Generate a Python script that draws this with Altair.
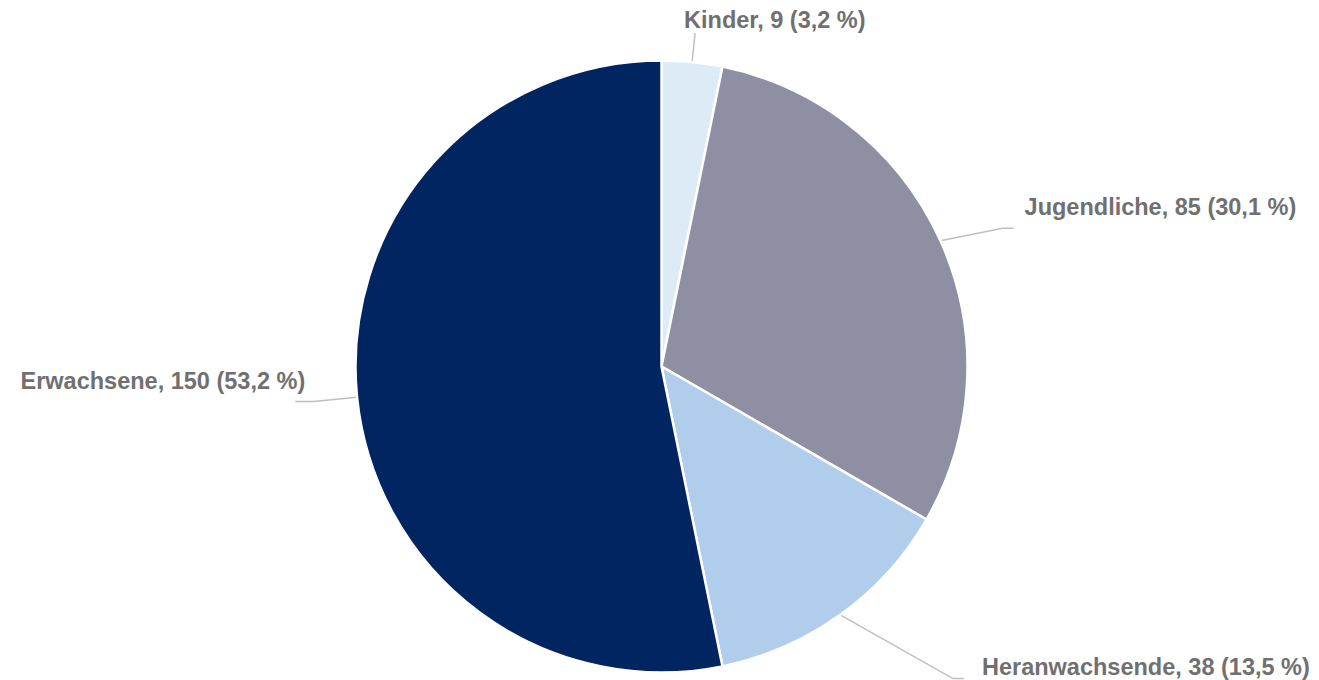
import altair as alt
import pandas as pd
import numpy as np

# ---- data ----
categories = ["Kinder", "Jugendliche", "Heranwachsende", "Erwachsene"]
values = [9, 85, 38, 150]
colors = ["#DDEBF7", "#8E8FA3", "#B0CDEB", "#002561"]

# ---- label layout (leader-line geometry, per slice) ----
elbow_radius = [335, 368, 427, 350]
elbow_shift_deg = [0, 2.2, -7.3, 0]
tail_len = [0, 11, 11, -18]
text_dx = [-11, 11, 18, 10]
text_dy = [-5, -13, -4, -13]
text_align = ["left", "left", "left", "right"]

W, H = 1303, 672
CX, CY, R = 653.5, 358.5, 306

total = sum(values)
vals = np.array(values, dtype=float)
start = np.cumsum(vals) - vals
mid = (start + vals / 2) / total * 2 * np.pi

labels = []
for c, v in zip(categories, values):
    pct = f"{v / total * 100:.1f}".replace(".", ",")
    labels.append(f"{c}, {v} ({pct} %)")

pie_df = pd.DataFrame({"category": categories, "value": values, "idx": range(len(values))})

line_rows, text_rows = [], []
for i, c in enumerate(categories):
    a = mid[i]
    sx, sy = CX + R * np.sin(a), CY - R * np.cos(a)
    ea = a + np.radians(elbow_shift_deg[i])
    ex, ey = CX + elbow_radius[i] * np.sin(ea), CY - elbow_radius[i] * np.cos(ea)
    tx, ty = ex + tail_len[i], ey
    line_rows += [
        {"category": c, "pt": 0, "x": sx, "y": sy},
        {"category": c, "pt": 1, "x": ex, "y": ey},
        {"category": c, "pt": 2, "x": tx, "y": ty},
    ]
    text_rows.append({"category": c, "label": labels[i], "x": tx + text_dx[i],
                      "y": ty + text_dy[i], "align": text_align[i]})

line_df = pd.DataFrame(line_rows)
text_df = pd.DataFrame(text_rows)

pie = alt.Chart(pie_df).mark_arc(radius=R, stroke="white", strokeWidth=2.5).encode(
    theta=alt.Theta("value:Q", stack=True),
    order=alt.Order("idx:Q"),
    color=alt.Color("category:N", scale=alt.Scale(domain=categories, range=colors), legend=None),
    x=alt.value(CX),
    y=alt.value(CY),
)

lines = alt.Chart(line_df).mark_line(color="#BFBFBF", strokeWidth=1.5).encode(
    x=alt.X("x:Q", scale=None, axis=None),
    y=alt.Y("y:Q", scale=None, axis=None),
    detail="category:N",
    order="pt:Q",
)

def text_layer(al):
    return alt.Chart(text_df).transform_filter(alt.datum.align == al).mark_text(
        align=al, baseline="alphabetic", font="Liberation Sans", fontWeight="bold",
        fontSize=23.5, color="#707070",
    ).encode(
        x=alt.X("x:Q", scale=None, axis=None),
        y=alt.Y("y:Q", scale=None, axis=None),
        text="label:N",
    )

chart = alt.layer(lines, pie, text_layer("left"), text_layer("right")).properties(
    width=W, height=H, padding=0, autosize="none", background="white"
).configure_view(stroke=None)

chart.save("out.html", embed_options={"renderer": "svg", "actions": False})
